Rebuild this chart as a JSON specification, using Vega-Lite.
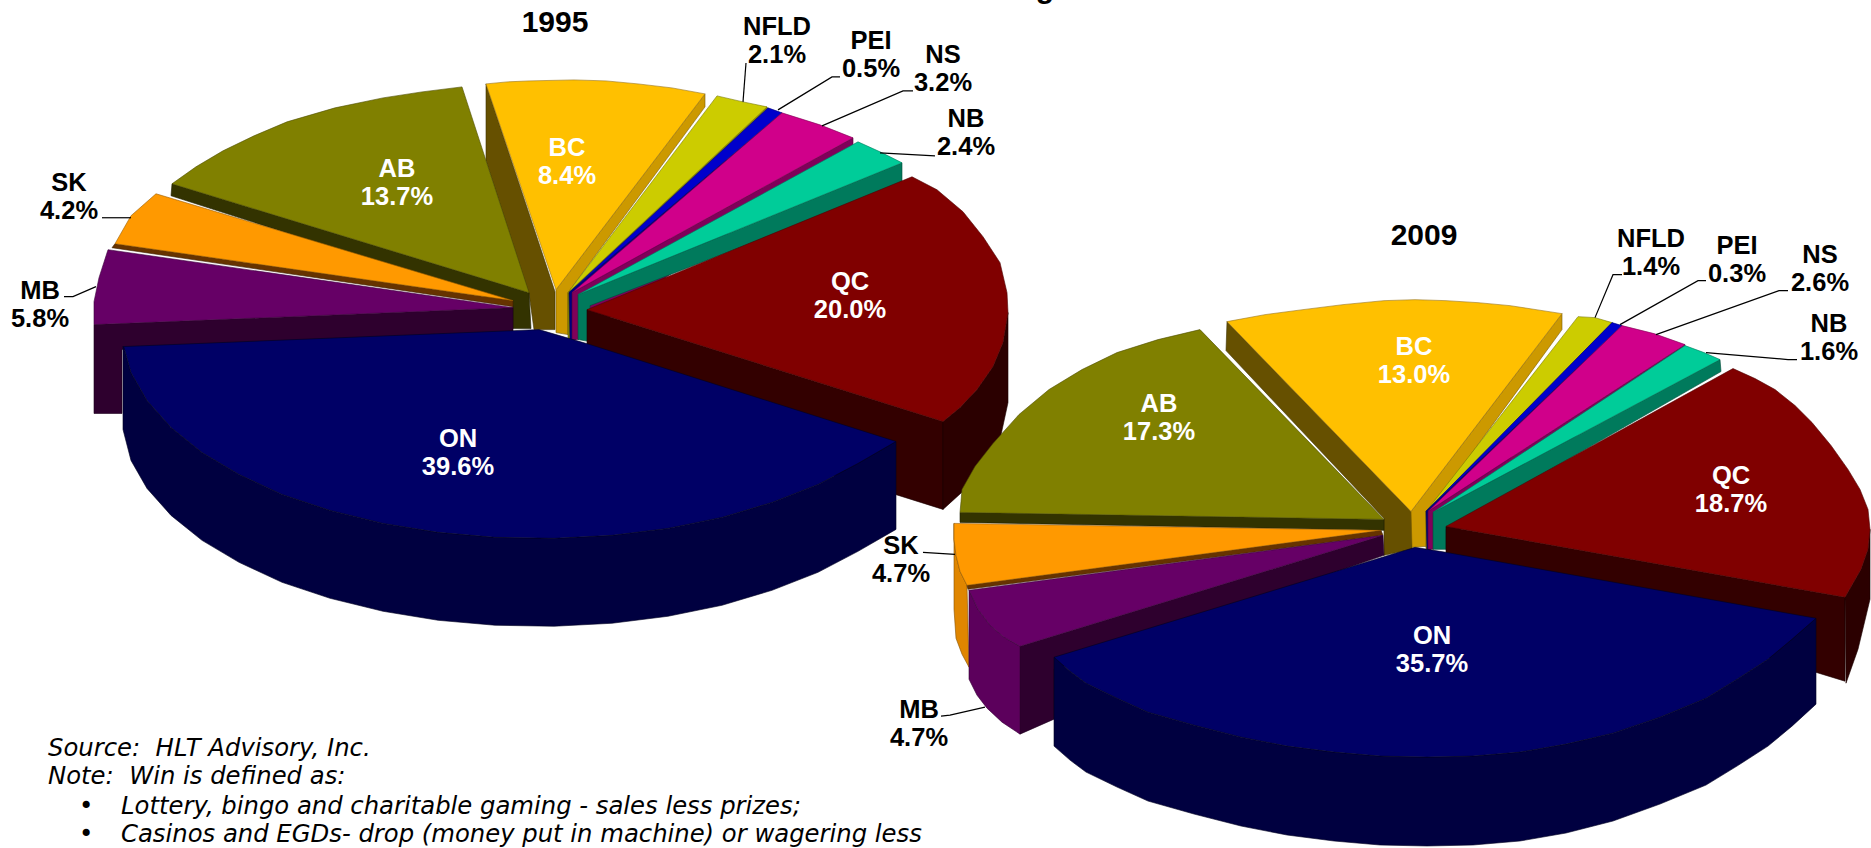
{
"$schema":"https://vega.github.io/schema/vega-lite/v6.json",
"width":1871,"height":848,"padding":0,"autosize":{"type":"fit","contains":"padding"},
"background":"white",
"config":{"view":{"stroke":null}},
"datasets":{
"faces":[
{"yr":1995,"part":"BC left","x":[486,555,555,534,529,486],"y":[84,292,330,330,294,161]},
{"yr":1995,"part":"BC right","x":[556,705,705,568,568,556],"y":[290,94,107,293,335,333]},
{"yr":1995,"part":"BC top","x":[556,486,507,529,574,606,638,672,705],"y":[290,84,82,81,80,81,84,88,94]},
{"yr":1995,"part":"NFLD side","x":[568,767,768,572,568],"y":[293,107,110,340,340]},
{"yr":1995,"part":"NFLD top","x":[568,717,743,767],"y":[293,96,102,107]},
{"yr":1995,"part":"PEI side","x":[569,782,783,576,570],"y":[293,113,116,340,340]},
{"yr":1995,"part":"PEI top","x":[569,768,782],"y":[293,108,113]},
{"yr":1995,"part":"NS side","x":[572,853,853,578,572],"y":[293,138,145,340,340]},
{"yr":1995,"part":"NS top","x":[572,782,820,853],"y":[293,113,125,138]},
{"yr":1995,"part":"NB side","x":[578,902,902,590,590,578],"y":[295,163,185,306,342,340]},
{"yr":1995,"part":"NB top","x":[578,858,880,902],"y":[295,142,152,163]},
{"yr":1995,"part":"QC inner","x":[587,943,943,587],"y":[310,422,510,398]},
{"yr":1995,"part":"QC outer","x":[943,960,977,993,1003,1008,1008,1000,985,965,943],"y":[422,408,390,367,343,313,403,440,470,490,510]},
{"yr":1995,"part":"QC top","x":[587,912,937,963,983,1000,1007,1008,1003,993,977,960,943],"y":[310,177,190,212,237,263,293,313,343,367,390,408,422]},
{"yr":1995,"part":"AB side","x":[172,529,531,513,513,171],"y":[184,293,329,329,306,196]},
{"yr":1995,"part":"AB top","x":[529,462,422,383,335,287,254,223,196,172],"y":[293,87,92,98,108,122,136,151,167,184]},
{"yr":1995,"part":"SK side","x":[115,513,513,112],"y":[244,301,307,248]},
{"yr":1995,"part":"SK top","x":[513,156,131,115],"y":[301,194,216,244]},
{"yr":1995,"part":"MB inner","x":[94,513,513,122,122,94],"y":[325,308,335,350,414,414]},
{"yr":1995,"part":"MB top","x":[513,108,99,94,94],"y":[308,250,278,302,325]},
{"yr":1995,"part":"ON side","x":[896,858,818,772,722,668,612,554,495,438,383,330,282,239,202,171,147,131,124,123,123,131,147,171,202,239,282,330,383,438,495,554,612,668,722,772,818,858,896],"y":[442,464,485,503,518,529,536,539,538,533,524,511,495,475,453,428,401,373,348,347,430,461,489,516,541,563,583,599,612,621,626,627,624,617,606,591,573,552,530]},
{"yr":1995,"part":"ON top","x":[539,590,896,858,818,772,722,668,612,554,495,438,383,330,282,239,202,171,147,131,124,123],"y":[330,345,442,464,485,503,518,529,536,539,538,533,524,511,495,475,453,428,401,373,348,347]},
{"yr":2009,"part":"BC left","x":[1227,1412,1412,1384,1384,1226],"y":[322,513,550,556,519,351]},
{"yr":2009,"part":"BC right","x":[1411,1562,1562,1430,1427,1412],"y":[512,314,330,511,547,548]},
{"yr":2009,"part":"BC top","x":[1411,1227,1265,1303,1343,1384,1415,1446,1478,1510,1536,1562],"y":[512,322,315,310,305,301,300,301,303,306,310,314]},
{"yr":2009,"part":"NFLD side","x":[1426,1612,1613,1430,1426],"y":[512,323,326,550,550]},
{"yr":2009,"part":"NFLD top","x":[1426,1578,1595,1612],"y":[512,317,318,323]},
{"yr":2009,"part":"PEI side","x":[1426,1622,1623,1431,1427],"y":[512,326,329,550,550]},
{"yr":2009,"part":"PEI top","x":[1426,1612,1622],"y":[512,323,326]},
{"yr":2009,"part":"NS side","x":[1428,1685,1685,1433,1428],"y":[512,345,350,550,550]},
{"yr":2009,"part":"NS top","x":[1428,1622,1654,1685],"y":[512,326,334,345]},
{"yr":2009,"part":"NB side","x":[1433,1720,1721,1446,1446,1433],"y":[513,360,372,530,550,550]},
{"yr":2009,"part":"NB top","x":[1433,1685,1704,1720],"y":[513,346,353,360]},
{"yr":2009,"part":"QC inner","x":[1446,1845,1845,1446],"y":[527,598,682,560]},
{"yr":2009,"part":"QC outer","x":[1845,1861,1868,1870,1870,1858,1846],"y":[598,570,550,530,600,650,684]},
{"yr":2009,"part":"QC top","x":[1446,1733,1755,1775,1795,1812,1831,1848,1860,1868,1870,1868,1861,1845],"y":[527,369,379,390,406,423,446,470,490,510,530,550,570,598]},
{"yr":2009,"part":"AB side","x":[960,1384,1384,960],"y":[513,520,531,523]},
{"yr":2009,"part":"AB top","x":[1384,1200,1158,1117,1082,1049,1019,993,975,962,961,960],"y":[520,330,340,353,370,390,415,444,467,490,502,513]},
{"yr":2009,"part":"SK outer","x":[954,954,956,960,967,969,962,956,954],"y":[524,540,556,572,586,668,655,639,610]},
{"yr":2009,"part":"SK side","x":[967,1381,1383,968],"y":[586,531,536,590]},
{"yr":2009,"part":"SK top","x":[1381,954,954,956,960,967],"y":[531,524,540,556,572,586]},
{"yr":2009,"part":"MB inner","x":[1020,1383,1384,1054,1054,1020],"y":[647,536,556,670,720,735]},
{"yr":2009,"part":"MB outer","x":[969,978,990,1004,1020,1020,1002,987,977,969],"y":[591,610,626,638,647,735,723,709,696,680]},
{"yr":2009,"part":"MB top","x":[1383,969,978,990,1004,1020],"y":[536,591,610,626,638,647]},
{"yr":2009,"part":"ON side","x":[1054,1070,1086,1117,1148,1194,1241,1287,1334,1380,1427,1473,1520,1566,1613,1660,1706,1737,1768,1792,1816,1816,1792,1768,1737,1706,1660,1613,1566,1520,1473,1427,1380,1334,1287,1241,1194,1148,1117,1086,1070,1054],"y":[658,672,684,699,713,726,738,747,753,757,758,757,753,745,734,718,699,680,660,640,619,705,727,747,767,786,805,822,834,842,846,847,846,842,836,827,815,802,788,773,761,747]},
{"yr":2009,"part":"ON top","x":[1415,1446,1816,1792,1768,1737,1706,1660,1613,1566,1520,1473,1427,1380,1334,1287,1241,1194,1148,1117,1086,1070,1054],"y":[548,553,619,640,660,680,699,718,734,745,753,757,758,757,753,747,738,726,713,699,684,672,658]}
],
"shares":[
{"yr":1995,"province":"NFLD","share":2.1,"label":"NFLD\n2.1%","x":777,"y":40},
{"yr":1995,"province":"PEI","share":0.5,"label":"PEI\n0.5%","x":871,"y":54},
{"yr":1995,"province":"NS","share":3.2,"label":"NS\n3.2%","x":943,"y":68},
{"yr":1995,"province":"NB","share":2.4,"label":"NB\n2.4%","x":966,"y":132},
{"yr":1995,"province":"BC","share":8.4,"label":"BC\n8.4%","x":567,"y":161},
{"yr":1995,"province":"QC","share":20.0,"label":"QC\n20.0%","x":850,"y":295},
{"yr":1995,"province":"AB","share":13.7,"label":"AB\n13.7%","x":397,"y":182},
{"yr":1995,"province":"SK","share":4.2,"label":"SK\n4.2%","x":69,"y":196},
{"yr":1995,"province":"MB","share":5.8,"label":"MB\n5.8%","x":40,"y":304},
{"yr":1995,"province":"ON","share":39.6,"label":"ON\n39.6%","x":458,"y":453},
{"yr":2009,"province":"NFLD","share":1.4,"label":"NFLD\n1.4%","x":1651,"y":252},
{"yr":2009,"province":"PEI","share":0.3,"label":"PEI\n0.3%","x":1737,"y":259},
{"yr":2009,"province":"NS","share":2.6,"label":"NS\n2.6%","x":1820,"y":268},
{"yr":2009,"province":"NB","share":1.6,"label":"NB\n1.6%","x":1829,"y":337},
{"yr":2009,"province":"BC","share":13.0,"label":"BC\n13.0%","x":1414,"y":360},
{"yr":2009,"province":"QC","share":18.7,"label":"QC\n18.7%","x":1731,"y":490},
{"yr":2009,"province":"AB","share":17.3,"label":"AB\n17.3%","x":1159,"y":417},
{"yr":2009,"province":"SK","share":4.7,"label":"SK\n4.7%","x":901,"y":560},
{"yr":2009,"province":"MB","share":4.7,"label":"MB\n4.7%","x":919,"y":724},
{"yr":2009,"province":"ON","share":35.7,"label":"ON\n35.7%","x":1432,"y":650}
],
"leaders":[
{"yr":1995,"province":"NFLD","x":[746,743],"y":[63,102]},
{"yr":1995,"province":"PEI","x":[840,832,778],"y":[77,77,110]},
{"yr":1995,"province":"NS","x":[913,903,822],"y":[91,91,126]},
{"yr":1995,"province":"NB","x":[935,880],"y":[156,153]},
{"yr":1995,"province":"SK","x":[102,131],"y":[218,218]},
{"yr":1995,"province":"MB","x":[64,73,96],"y":[297,297,287]},
{"yr":2009,"province":"NFLD","x":[1622,1613,1595],"y":[275,275,318]},
{"yr":2009,"province":"PEI","x":[1706,1698,1620],"y":[281,281,325]},
{"yr":2009,"province":"NS","x":[1788,1779,1656],"y":[291,291,335]},
{"yr":2009,"province":"NB","x":[1797,1788,1706],"y":[360,360,353]},
{"yr":2009,"province":"SK","x":[923,955],"y":[553,555]},
{"yr":2009,"province":"MB","x":[941,950,985],"y":[717,716,708]}
],
"titles":[{"t":"1995","x":555,"y":23},{"t":"2009","x":1424,"y":236}],
"notes":[
{"t":"Source:\u00a0 HLT Advisory, Inc.","x":48,"y":750},
{"t":"Note:\u00a0 Win is defined as:","x":48,"y":778},
{"t":"•","x":79,"y":808},
{"t":"Lottery, bingo and charitable gaming - sales less prizes;","x":121,"y":808},
{"t":"•","x":79,"y":836},
{"t":"Casinos and EGDs- drop (money put in machine) or wagering less","x":121,"y":836}
],
"cut":[{"t":"g","x":1045,"y":-2}]
},
"layer":[
{"data":{"name":"faces"},
 "transform":[{"flatten":["x","y"]}],
 "mark":{"type":"line","strokeWidth":0.6,"interpolate":"linear-closed","strokeJoin":"round"},
 "encoding":{
  "x":{"field":"x","type":"quantitative","axis":null,"scale":{"domain":[0,1871],"nice":false,"zero":false}},
  "y":{"field":"y","type":"quantitative","axis":null,"scale":{"domain":[848,0],"nice":false,"zero":false}},
  "detail":[{"field":"yr"},{"field":"part"}],
  "order":{"value":null},
  "fill":{"field":"part","type":"nominal","legend":null,"scale":{
    "domain":["BC left","BC right","BC top","NFLD side","NFLD top","PEI side","PEI top","NS side","NS top","NB side","NB top","QC inner","QC outer","QC top","AB side","AB top","SK outer","SK side","SK top","MB inner","MB outer","MB top","ON side","ON top"],
    "range":["#665000","#CC9900","#FFC000","#8F8F00","#CCCC00","#000080","#0000CC","#80005A","#D0008A","#007A5C","#00CC99","#330000","#2B0000","#800000","#333300","#808000","#E08600","#663300","#FF9900","#2E002E","#5C005C","#660066","#000040","#000066"]}},
  "stroke":{"field":"part","type":"nominal","legend":null,"scale":{
    "domain":["BC left","BC right","BC top","NFLD side","NFLD top","PEI side","PEI top","NS side","NS top","NB side","NB top","QC inner","QC outer","QC top","AB side","AB top","SK outer","SK side","SK top","MB inner","MB outer","MB top","ON side","ON top"],
    "range":["#3d3000","#7a5c00","#99731a","#555500","#7a7a00","#00004d","#00007a","#4d0036","#7d0053","#004937","#007a5c","#1a0000","#1a0000","#4d0000","#1f1f00","#4d4d00","#865000","#3d1f00","#995c00","#1c001c","#370037","#3d003d","#000020","#000020"]}}
 }},
{"data":{"name":"leaders"},
 "transform":[{"flatten":["x","y"]}],
 "mark":{"type":"line","color":"black","strokeWidth":1.2},
 "encoding":{
  "x":{"field":"x","type":"quantitative","axis":null},
  "y":{"field":"y","type":"quantitative","axis":null},
  "detail":[{"field":"yr"},{"field":"province"}],
  "order":{"value":null}
 }},
{"data":{"name":"shares"},
 "mark":{"type":"text","font":"Liberation Sans","fontWeight":"bold","fontSize":25.5,"lineBreak":"\n","lineHeight":28,"baseline":"middle","align":"center","dy":-13},
 "encoding":{
  "x":{"field":"x","type":"quantitative","axis":null},
  "y":{"field":"y","type":"quantitative","axis":null},
  "text":{"field":"label"},
  "color":{"condition":{"test":"indexof(['ON','QC','BC','AB'],datum.province)>=0","value":"white"},"value":"black"}
 }},
{"data":{"name":"titles"},
 "mark":{"type":"text","font":"Liberation Sans","fontWeight":"bold","fontSize":30,"baseline":"middle","align":"center","color":"black"},
 "encoding":{"x":{"field":"x","type":"quantitative","axis":null},"y":{"field":"y","type":"quantitative","axis":null},"text":{"field":"t"}}},
{"data":{"name":"cut"},
 "mark":{"type":"text","font":"Liberation Sans","fontWeight":"bold","fontSize":30,"baseline":"alphabetic","align":"center","color":"black","clip":true},
 "encoding":{"x":{"field":"x","type":"quantitative","axis":null},"y":{"field":"y","type":"quantitative","axis":null},"text":{"field":"t"}}},
{"data":{"name":"notes"},
 "mark":{"type":"text","font":"DejaVu Sans","fontStyle":"italic","fontSize":24.3,"baseline":"middle","align":"left","color":"black"},
 "encoding":{"x":{"field":"x","type":"quantitative","axis":null},"y":{"field":"y","type":"quantitative","axis":null},"text":{"field":"t"}}}
]
}
